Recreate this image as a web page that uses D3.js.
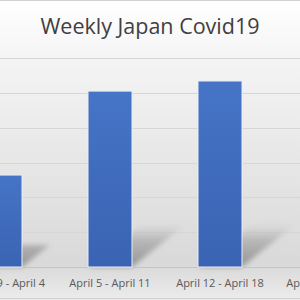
<!DOCTYPE html>
<html lang="en">

<head>
    <meta charset="UTF-8" />
    <title>Weekly Japan Covid19</title>
    <script src="https://d3js.org/d3.v7.js"></script>
    <style>
        body { margin: 0; background: #fff; }
    </style>
</head>

<body>
    <svg id="chart"></svg>
</body>

<script>
    // weekly new cases
    var weeks = ["March 29 - April 4", "April 5 - April 11", "April 12 - April 18", "April 19 - April 25"];
    var cases = [1320, 2525, 2670, 2400];
    var gridTicks = [0, 500, 1000, 1500, 2000, 2500, 3000];

    var width = 300;
    var height = 300;
    var baseY = 267;
    var topY = 58;

    var svg = d3.select("#chart")
        .attr("width", width)
        .attr("height", height);

    var defs = svg.append("defs");

    var bg = defs.append("linearGradient")
        .attr("id", "bg").attr("x1", 0).attr("y1", 0).attr("x2", 0).attr("y2", 1);
    bg.append("stop").attr("offset", "0%").attr("stop-color", "#ffffff");
    bg.append("stop").attr("offset", "20%").attr("stop-color", "#f4f4f4");
    bg.append("stop").attr("offset", "88%").attr("stop-color", "#d9d9d9");
    bg.append("stop").attr("offset", "100%").attr("stop-color", "#ececec");

    var barGrad = defs.append("linearGradient")
        .attr("id", "barGrad").attr("x1", 0).attr("y1", 0).attr("x2", 0).attr("y2", 1);
    barGrad.append("stop").attr("offset", "0%").attr("stop-color", "#4674c6");
    barGrad.append("stop").attr("offset", "100%").attr("stop-color", "#3a63b3");

    // shadow fades upward: gradient in user space from the baseline
    var shadowGrad = defs.append("linearGradient")
        .attr("id", "shadowGrad")
        .attr("gradientUnits", "userSpaceOnUse")
        .attr("x1", 0).attr("y1", baseY).attr("x2", 0).attr("y2", baseY - 45);
    shadowGrad.append("stop").attr("offset", "0%").attr("stop-color", "#8c8c8c").attr("stop-opacity", 0.9);
    shadowGrad.append("stop").attr("offset", "60%").attr("stop-color", "#a0a0a0").attr("stop-opacity", 0.6);
    shadowGrad.append("stop").attr("offset", "100%").attr("stop-color", "#c4c4c4").attr("stop-opacity", 0);

    defs.append("filter").attr("id", "blur")
        .attr("filterUnits", "userSpaceOnUse")
        .attr("x", -60).attr("y", 150).attr("width", 420).attr("height", 150)
        .append("feGaussianBlur").attr("stdDeviation", 2.5);

    // background
    svg.append("rect")
        .attr("x", 0).attr("y", 0)
        .attr("width", width).attr("height", height)
        .attr("fill", "url(#bg)");

    var x = d3.scaleBand()
        .domain(weeks)
        .range([-55, 385])
        .paddingInner(0.6)
        .paddingOuter(0.3);

    var y = d3.scaleLinear()
        .domain([0, 3000])
        .range([baseY, topY]);

    // gridlines
    svg.append("g")
        .selectAll("line")
        .data(gridTicks.slice(1))
        .enter()
        .append("line")
        .attr("x1", 0).attr("x2", width)
        .attr("y1", (d) => Math.round(y(d)) + 0.5)
        .attr("y2", (d) => Math.round(y(d)) + 0.5)
        .attr("stroke", "#d6d6d6")
        .attr("stroke-width", 1);

    // perspective shadows
    svg.append("g")
        .attr("filter", "url(#blur)")
        .selectAll("path")
        .data(weeks)
        .enter()
        .append("path")
        .attr("d", function (d, i) {
            var x0 = x(d), x1 = x(d) + x.bandwidth();
            var h = (baseY - y(cases[i])) * 0.24;
            var dx = h * 1.25;
            return "M" + x0 + "," + baseY + "L" + x1 + "," + baseY +
                "L" + (x1 + dx) + "," + (baseY - h) + "L" + (x0 + dx) + "," + (baseY - h) + "Z";
        })
        .attr("fill", "url(#shadowGrad)");

    // baseline
    svg.append("line")
        .attr("x1", 0).attr("x2", width)
        .attr("y1", baseY + 0.5).attr("y2", baseY + 0.5)
        .attr("stroke", "#c4c4c4");

    // bars
    svg.append("g")
        .selectAll("rect")
        .data(cases)
        .enter()
        .append("rect")
        .attr("x", (d, i) => x(weeks[i]))
        .attr("y", (d) => y(d))
        .attr("width", x.bandwidth())
        .attr("height", (d) => baseY - y(d))
        .attr("fill", "url(#barGrad)")
        .attr("stroke", "#e8eef8")
        .attr("stroke-width", 1);

    // category labels
    svg.append("g")
        .selectAll("text")
        .data(weeks)
        .enter()
        .append("text")
        .attr("x", (d) => x(d) + x.bandwidth() / 2)
        .attr("y", 287)
        .attr("text-anchor", "middle")
        .attr("font-family", "Open Sans, sans-serif")
        .attr("font-size", 11)
        .attr("fill", "#595959")
        .text((d) => d);

    // title
    svg.append("text")
        .attr("x", 150)
        .attr("y", 34)
        .attr("text-anchor", "middle")
        .attr("font-family", "Open Sans, sans-serif")
        .attr("font-size", 21.5)
        .attr("fill", "#404040")
        .text("Weekly Japan Covid19");

    // frame lines top and bottom
    svg.append("line")
        .attr("x1", 0).attr("x2", width).attr("y1", 0.5).attr("y2", 0.5)
        .attr("stroke", "#d0d0d0");
    svg.append("line")
        .attr("x1", 0).attr("x2", width).attr("y1", 298.5).attr("y2", 298.5)
        .attr("stroke", "#d0d0d0");
</script>

</html>
